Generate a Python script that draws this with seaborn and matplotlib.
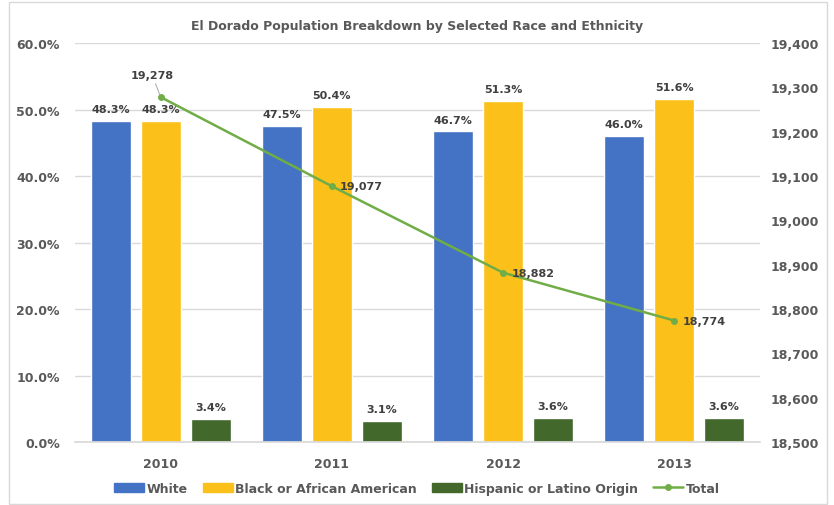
import numpy as np
import pandas as pd
import matplotlib
matplotlib.use("Agg")
import matplotlib.pyplot as plt
import seaborn as sns

years = ["2010", "2011", "2012", "2013"]
groups = ["White", "Black or African American", "Hispanic or Latino Origin"]
white = [48.3, 47.5, 46.7, 46.0]
black = [48.3, 50.4, 51.3, 51.6]
hispanic = [3.4, 3.1, 3.6, 3.6]
total = [19278, 19077, 18882, 18774]

colors = ["#4472C4", "#FBC01A", "#43682B"]
line_color = "#70AD47"
txt = "#404040"
tick_c = "#595959"

df = pd.DataFrame({
    "year": years * 3,
    "group": [g for g in groups for _ in years],
    "pct": white + black + hispanic,
})

sns.set_theme(style="white")
plt.rcParams["font.family"] = ["DejaVu Sans"]

fig = plt.figure(figsize=(8.34, 5.06), dpi=100)
ax = fig.add_axes([0.09, 0.1245, 0.821, 0.7885])

sns.barplot(data=df, x="year", y="pct", hue="group", palette=colors,
            width=0.876, gap=0.2, ax=ax, legend=False, saturation=1)

for cont in ax.containers:
    ax.bar_label(cont, labels=[f"{v:.1f}%" for v in cont.datavalues], padding=5,
                 fontsize=8, fontweight="bold", color=txt)

ax.set_ylim(0, 60)
ax.set_xlim(-0.5, 3.5)
ax.set_yticks(np.arange(0, 61, 10))
ax.set_yticklabels([f"{v:.1f}%" for v in np.arange(0, 61, 10)])
ax.yaxis.grid(True, color="#D9D9D9", linewidth=1)
ax.set_axisbelow(True)
ax.set_xlabel("")
ax.set_ylabel("")
for s in ["top", "right", "left"]:
    ax.spines[s].set_visible(False)
ax.spines["bottom"].set_color("#D9D9D9")
ax.tick_params(axis="both", length=0, labelsize=9, labelcolor=tick_c, pad=11)
for lab in ax.get_xticklabels() + ax.get_yticklabels():
    lab.set_fontweight("bold")

ax2 = ax.twinx()
sns.lineplot(x=np.arange(len(years)), y=total, ax=ax2, color=line_color,
             marker="o", markersize=5, markeredgewidth=0, linewidth=1.8)
ax2.set_ylim(18500, 19400)
ax2.set_yticks(np.arange(18500, 19401, 100))
ax2.set_yticklabels([f"{v:,}" for v in np.arange(18500, 19401, 100)])
for s in ax2.spines.values():
    s.set_visible(False)
ax2.tick_params(axis="y", length=0, labelsize=9, labelcolor=tick_c, pad=8)
for lab in ax2.get_yticklabels():
    lab.set_fontweight("bold")

for i, v in enumerate(total):
    if i == 0:
        ax2.annotate(f"{v:,}", xy=(i, v), xytext=(-6, 12), textcoords="offset points",
                     fontsize=8, fontweight="bold", color=txt, ha="center", va="bottom",
                     arrowprops=dict(arrowstyle="-", color="#A6A6A6", lw=0.7,
                                     shrinkA=0, shrinkB=2))
    else:
        ax2.annotate(f"{v:,}", xy=(i, v), xytext=(6, 0), textcoords="offset points",
                     fontsize=8, fontweight="bold", color=txt, ha="left", va="center")

handles = [plt.Rectangle((0, 0), 1, 1, color=c) for c in colors]
handles.append(plt.Line2D([], [], color=line_color, marker="o", markersize=4, linewidth=1.8))
leg = fig.legend(handles, groups + ["Total"], loc="center", bbox_to_anchor=(0.5, 0.033),
                 ncol=4, frameon=False, fontsize=9, handlelength=2.4, handleheight=0.8,
                 handletextpad=0.2, columnspacing=1.2)
for t in leg.get_texts():
    t.set_color(tick_c)
    t.set_fontweight("bold")

fig.suptitle("El Dorado Population Breakdown by Selected Race and Ethnicity",
             x=0.5, y=0.96, fontsize=9, fontweight="bold", color=tick_c)

fig.patches.append(plt.Rectangle((9 / 834, 1 / 506), 818 / 834, 502 / 506, fill=False,
                                 edgecolor="#D9D9D9", linewidth=1, transform=fig.transFigure))

fig.savefig("out.png", dpi=100)
